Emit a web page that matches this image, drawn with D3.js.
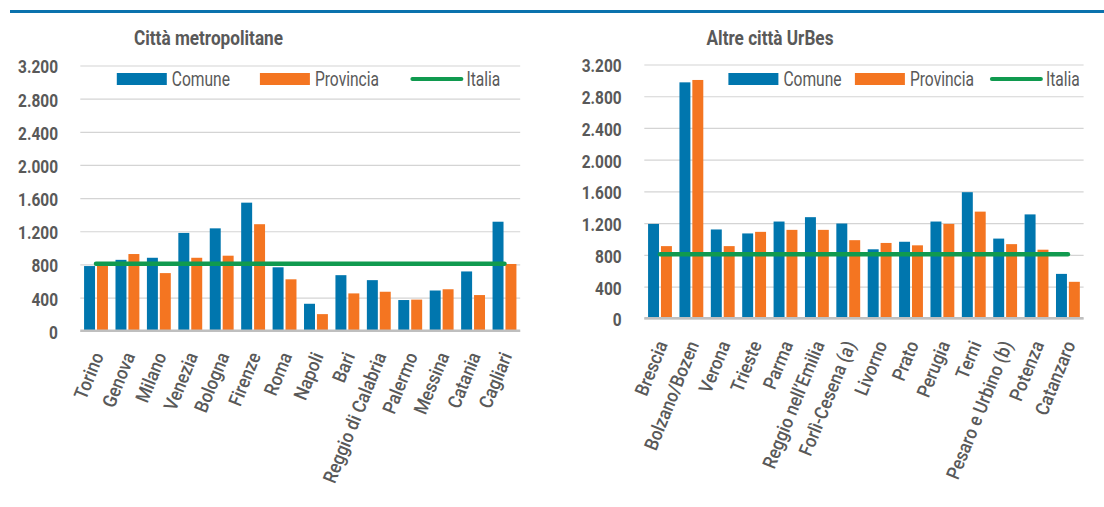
<!DOCTYPE html>
<html>
<head>
<meta charset="utf-8">
<script src="https://cdn.jsdelivr.net/npm/d3@7"></script>
<style>
  body { margin: 0; background: #fff; }
  svg text { font-family: Roboto, "DejaVu Sans Condensed", sans-serif; fill: #595959; }
</style>
</head>
<body>
<svg id="chart" width="1104" height="507"></svg>
<script>
// Data
const metroCities = ['Torino', 'Genova', 'Milano', 'Venezia', 'Bologna', 'Firenze', 'Roma', 'Napoli', 'Bari', 'Reggio di Calabria', 'Palermo', 'Messina', 'Catania', 'Cagliari'];
const metroComune = [780, 855, 880, 1180, 1235, 1545, 765, 325, 670, 610, 370, 485, 715, 1315];
const metroProvincia = [795, 925, 695, 880, 905, 1285, 620, 200, 450, 470, 375, 500, 430, 805];

const urbesCities = ['Brescia', 'Bolzano/Bozen', 'Verona', 'Trieste', 'Parma', 'Reggio nell\u2019Emilia', 'Forlì-Cesena (a)', 'Livorno', 'Prato', 'Perugia', 'Terni', 'Pesaro e Urbino (b)', 'Potenza', 'Catanzaro'];
const urbesComune = [1190, 2975, 1120, 1070, 1220, 1275, 1195, 870, 965, 1220, 1590, 1005, 1310, 560];
const urbesProvincia = [910, 3005, 910, 1090, 1115, 1115, 985, 950, 920, 1190, 1345, 935, 865, 460];

const italia = 808;
const yTicks = [0, 400, 800, 1200, 1600, 2000, 2400, 2800, 3200];
const seriesNames = ['Comune', 'Provincia', 'Italia'];

const colors = {
    comune: '#0076ae',
    provincia: '#f47521',
    italia: '#109a4f',
    grid: '#d4d4d4',
    axis: '#bfbfbf',
    rule: '#0a72ad'
};

// condensed look: the original uses a narrow DIN-like face
const squeeze = { title: 0.86, tick: 0.86, legend: 0.8, cat: 0.9 };

const it = d3.formatLocale({ decimal: ',', thousands: '.', grouping: [3], currency: ['', '€'] });
const fmt = it.format(',d');

const svg = d3.select('#chart');

// top rule
svg.append('line')
    .attr('x1', 10).attr('x2', 1104)
    .attr('y1', 11.5).attr('y2', 11.5)
    .attr('stroke', colors.rule)
    .attr('stroke-width', 3);

function drawPanel(cfg, cats, comune, provincia) {
    const g = svg.append('g');

    const x0 = d3.scaleBand()
        .domain(cats)
        .range([cfg.gx0, cfg.gx1])
        .paddingInner(0.24)
        .paddingOuter(0.12);

    const x1 = d3.scaleBand()
        .domain(['comune', 'provincia'])
        .range([0, x0.bandwidth()])
        .paddingInner(0.15);

    const y = d3.scaleLinear()
        .domain([0, 3200])
        .range([cfg.y0, cfg.y1]);

    // title
    g.append('text')
        .attr('transform', `translate(${cfg.titleX},45) scale(${squeeze.title},1)`)
        .attr('text-anchor', 'middle')
        .style('font-size', '20px')
        .style('font-weight', 'bold')
        .text(cfg.title);

    // gridlines + y labels
    const pad = cfg.gx0 - cfg.labelRight;
    const yAxis = d3.axisLeft(y)
        .tickValues(yTicks)
        .tickSize(-(cfg.gx1 - cfg.gx0))
        .tickFormat(fmt);

    const ya = g.append('g')
        .attr('transform', `translate(${cfg.gx0},0)`)
        .call(yAxis);
    ya.select('.domain').remove();
    ya.selectAll('line').attr('stroke', colors.grid).attr('stroke-width', 1.2);
    ya.selectAll('text')
        .attr('x', 0)
        .attr('dy', '0.36em')
        .attr('transform', `translate(${-pad},1) scale(${squeeze.tick},1)`)
        .attr('fill', '#595959')
        .style('font-size', '18px')
        .style('font-weight', 'bold');

    // bars
    const rows = cats.map((c, i) => ({ cat: c, comune: comune[i], provincia: provincia[i] }));
    const groups = g.append('g').selectAll('g')
        .data(rows)
        .join('g')
        .attr('transform', d => `translate(${x0(d.cat)},0)`);

    groups.selectAll('rect')
        .data(d => [{ k: 'comune', v: d.comune }, { k: 'provincia', v: d.provincia }])
        .join('rect')
        .attr('x', d => x1(d.k))
        .attr('width', x1.bandwidth())
        .attr('y', d => y(d.v))
        .attr('height', d => y(0) - y(d.v))
        .attr('fill', d => colors[d.k]);

    // category axis
    const xAxis = d3.axisBottom(x0).tickSize(0);
    const xa = g.append('g')
        .attr('transform', `translate(0,${cfg.y0})`)
        .call(xAxis);
    xa.select('.domain').remove();
    xa.selectAll('text')
        .attr('x', 0).attr('y', 0).attr('dy', 0)
        .attr('transform', `translate(8,${cfg.labelDrop}) rotate(-68) scale(${squeeze.cat},1)`)
        .attr('text-anchor', 'end')
        .attr('fill', '#595959')
        .style('font-size', '19px')
        .style('font-weight', 500);

    g.append('line')
        .attr('x1', cfg.gx0).attr('x2', cfg.gx1)
        .attr('y1', y(0)).attr('y2', y(0))
        .attr('stroke', colors.axis)
        .attr('stroke-width', 2.5);

    // Italia line
    const line = d3.line()
        .x(d => x0(d) + x0.bandwidth() / 2)
        .y(() => y(italia));
    g.append('path')
        .datum(cats)
        .attr('d', line)
        .attr('fill', 'none')
        .attr('stroke', colors.italia)
        .attr('stroke-width', 4.5)
        .attr('stroke-linecap', 'round');

    // legend
    const lg = g.append('g');
    const lx = cfg.legendX;
    lg.append('rect').attr('x', lx[0]).attr('y', 73).attr('width', 50).attr('height', 12).attr('fill', colors.comune);
    lg.append('rect').attr('x', lx[1]).attr('y', 73).attr('width', 50).attr('height', 12).attr('fill', colors.provincia);
    lg.append('line').attr('x1', lx[2] + 2).attr('x2', lx[2] + 51).attr('y1', 79).attr('y2', 79)
        .attr('stroke', colors.italia).attr('stroke-width', 4).attr('stroke-linecap', 'round');
    seriesNames.forEach((name, i) => {
        lg.append('text')
            .attr('transform', `translate(${lx[i] + (i === 2 ? 56 : 55)},86) scale(${squeeze.legend},1)`)
            .style('font-size', '19.5px')
            .text(name);
    });
}

drawPanel({
    title: 'Città metropolitane',
    titleX: 208.5,
    gx0: 80.3, gx1: 520.2,
    y0: 330.7, y1: 65.5,
    labelRight: 58,
    labelDrop: 25,
    legendX: [116.8, 259.9, 410.4]
}, metroCities, metroComune, metroProvincia);

drawPanel({
    title: 'Altre città UrBes',
    titleX: 770,
    gx0: 644.3, gx1: 1083.6,
    y0: 318.3, y1: 64.5,
    labelRight: 621.7,
    labelDrop: 26,
    legendX: [728.4, 854.9, 989.9]
}, urbesCities, urbesComune, urbesProvincia);
</script>
</body>
</html>
